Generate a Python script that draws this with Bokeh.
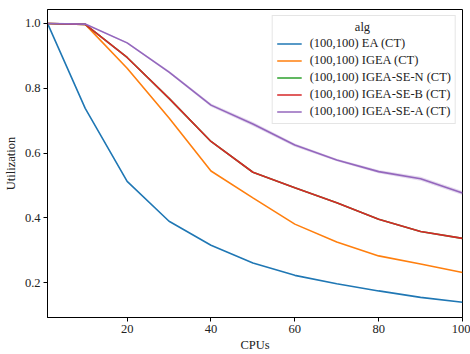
from bokeh.plotting import figure
from bokeh.models import FixedTicker, PrintfTickFormatter, Range1d, Legend, LegendItem
from bokeh.embed import file_html
from bokeh.resources import INLINE

cpus = [1, 10, 20, 30, 40, 50, 60, 70, 80, 90, 100]

ea = [1.0, 0.738, 0.513, 0.390, 0.316, 0.261, 0.223, 0.197, 0.175, 0.155, 0.140]
igea = [1.0, 0.997, 0.862, 0.708, 0.545, 0.462, 0.381, 0.326, 0.283, 0.258, 0.232]
igea_se_n = [1.0, 0.997, 0.895, 0.769, 0.636, 0.541, 0.493, 0.447, 0.396, 0.358, 0.337]
igea_se_b = [1.0, 0.997, 0.895, 0.769, 0.636, 0.541, 0.493, 0.447, 0.396, 0.358, 0.337]
igea_se_a = [1.0, 0.998, 0.940, 0.850, 0.748, 0.690, 0.625, 0.579, 0.543, 0.521, 0.477]
igea_se_a_err = [0.0, 0.001, 0.003, 0.004, 0.005, 0.006, 0.005, 0.004, 0.005, 0.006, 0.006]

labels = [
    "(100,100) EA (CT)",
    "(100,100) IGEA (CT)",
    "(100,100) IGEA-SE-N (CT)",
    "(100,100) IGEA-SE-B (CT)",
    "(100,100) IGEA-SE-A (CT)",
]
colors = ["#1f77b4", "#ff7f0e", "#2ca02c", "#d62728", "#9467bd"]
series = [ea, igea, igea_se_n, igea_se_b, igea_se_a]

FONT = "Liberation Serif"
FS = "12.5px"

p = figure(width=470, height=354, output_backend="svg", toolbar_location=None,
           x_range=Range1d(1, 100), y_range=Range1d(0.093, 1.043),
           min_border_left=45, min_border_right=8, min_border_top=9, min_border_bottom=35)
p.grid.visible = False
p.outline_line_color = "black"
p.outline_line_width = 1
p.background_fill_color = "white"

lo = [v - e for v, e in zip(igea_se_a, igea_se_a_err)]
hi = [v + e for v, e in zip(igea_se_a, igea_se_a_err)]
p.varea(x=cpus, y1=lo, y2=hi, fill_color=colors[4], fill_alpha=0.25)

items = []
for lab, col, ys in zip(labels, colors, series):
    r = p.line(cpus, ys, line_color=col, line_width=1.6)
    items.append(LegendItem(label=lab, renderers=[r]))

for ax in (p.xaxis[0], p.yaxis[0]):
    ax.major_label_text_font = FONT
    ax.major_label_text_font_size = FS
    ax.major_label_text_color = "#222222"
    ax.axis_label_text_font = FONT
    ax.axis_label_text_font_size = FS
    ax.axis_label_text_font_style = "normal"
    ax.axis_label_text_color = "#222222"
    ax.minor_tick_line_color = None
    ax.major_tick_out = 4
    ax.major_tick_in = 0
    ax.axis_line_color = "black"
    ax.major_label_standoff = 3

p.xaxis.ticker = FixedTicker(ticks=[20, 40, 60, 80, 100])
p.yaxis.ticker = FixedTicker(ticks=[0.2, 0.4, 0.6, 0.8, 1.0])
p.yaxis.formatter = PrintfTickFormatter(format="%.1f")
p.xaxis.axis_label = "CPUs"
p.yaxis.axis_label = "Utilization"
p.xaxis.axis_label_standoff = 2
p.yaxis.axis_label_standoff = 4

# non-breaking spaces push the title toward the middle of the box
legend = Legend(items=items, location="top_right", title="\u00a0" * 25 + "alg")
legend.title_text_font = FONT
legend.title_text_font_size = FS
legend.title_text_font_style = "normal"
legend.title_text_color = "#222222"
legend.title_standoff = 1
legend.label_text_font = FONT
legend.label_text_font_size = FS
legend.label_text_color = "#222222"
legend.glyph_width = 25
legend.glyph_height = 13
legend.label_height = 13
legend.spacing = 2
legend.label_standoff = 8
legend.padding = 4
legend.margin = 6
legend.border_line_color = "#cccccc"
legend.border_line_width = 1
legend.background_fill_alpha = 0.8
p.add_layout(legend)

open("out.html", "w").write(file_html(p, INLINE))
